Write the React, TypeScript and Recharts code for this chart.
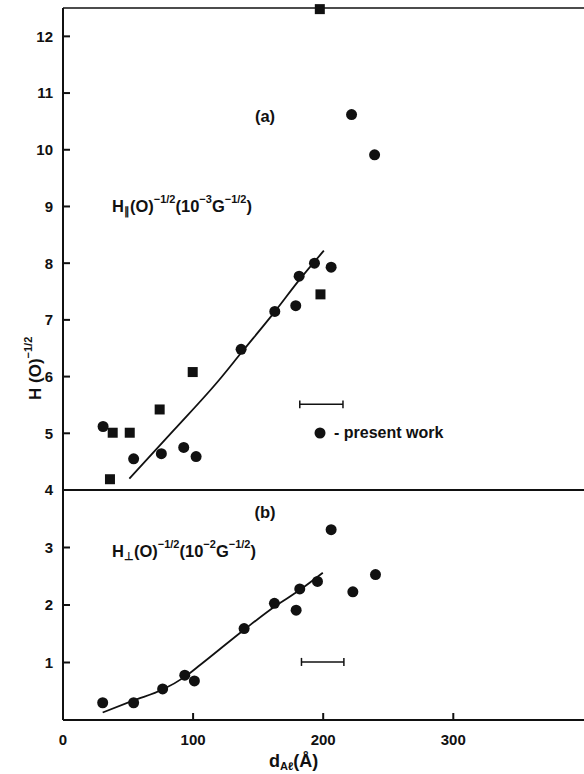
import React from "react";
import {
  ComposedChart,
  Scatter,
  Line,
  XAxis,
  YAxis,
  ReferenceLine,
} from "recharts";

// panel (a): H_par(0)^-1/2 in 10^-3 G^-1/2
const topCircleX = [30.8, 54.3, 75.6, 92.8, 102.3, 136.9, 162.8, 178.9, 181.5, 193.3, 206.1, 221.8, 239.5];
const topCircleY = [5.12, 4.55, 4.64, 4.75, 4.59, 6.48, 7.15, 7.25, 7.77, 8.0, 7.93, 10.62, 9.91];
const topSquareX = [36.1, 38.2, 51.3, 74.3, 99.7, 197.9, 197.4];
const topSquareY = [4.19, 5.01, 5.01, 5.42, 6.08, 7.45, 12.48];
const topFitX = [51, 85, 120, 137, 163, 181.5, 200.5];
const topFitY = [4.2, 5.05, 5.94, 6.42, 7.15, 7.7, 8.22];

// panel (b): H_perp(0)^-1/2 in 10^-2 G^-1/2
const botCircleX = [30.5, 54.3, 76.6, 93.6, 101, 139.2, 162.5, 179.2, 182, 195.6, 206.1, 222.8, 240.2];
const botCircleY = [0.3, 0.3, 0.54, 0.78, 0.68, 1.59, 2.03, 1.91, 2.28, 2.41, 3.31, 2.23, 2.53];
const botFitX = [30.5, 54.3, 76.6, 93.6, 105.6, 139.2, 162.5, 182, 199.7];
const botFitY = [0.13, 0.34, 0.53, 0.75, 0.96, 1.57, 1.97, 2.26, 2.56];

// thickness uncertainty bars
const topBar = { x1: 182, x2: 215.2, y: 5.51 };
const botBar = { x1: 183.3, x2: 215.9, y: 1.01 };

const xTicks = [0, 100, 200, 300];
const topYTicks = [4, 5, 6, 7, 8, 9, 10, 11, 12];
const botYTicks = [1, 2, 3];

const pts = (xs: number[], ys: number[]) => xs.map((x, i) => ({ x, y: ys[i] }));

const INK = "#111";
const FONT = "'Liberation Sans', Arial, sans-serif";
const tickFont = { fontFamily: FONT, fontWeight: 700, fontSize: 15, fill: INK };

const Dot = (p: any) => <circle cx={p.cx} cy={p.cy} r={5.5} fill={INK} />;
const Square = (p: any) => (
  <rect x={p.cx - 5} y={p.cy - 5} width={10} height={10} fill={INK} />
);
// inward tick marks, drawn as scatter glyphs sitting on the axes
const YTickMark = (p: any) => (
  <line x1={p.cx} x2={p.cx + 7} y1={p.cy} y2={p.cy} stroke={INK} strokeWidth={2} />
);
const XTickMark = (p: any) => (
  <line x1={p.cx} x2={p.cx} y1={p.cy} y2={p.cy - 7} stroke={INK} strokeWidth={2} />
);

function barLines(bar: { x1: number; x2: number; y: number }, cap: number, key: string) {
  return [
    <ReferenceLine key={key + "h"} segment={[{ x: bar.x1, y: bar.y }, { x: bar.x2, y: bar.y }]} stroke={INK} strokeWidth={1.5} />,
    <ReferenceLine key={key + "l"} segment={[{ x: bar.x1, y: bar.y - cap }, { x: bar.x1, y: bar.y + cap }]} stroke={INK} strokeWidth={1.5} />,
    <ReferenceLine key={key + "r"} segment={[{ x: bar.x2, y: bar.y - cap }, { x: bar.x2, y: bar.y + cap }]} stroke={INK} strokeWidth={1.5} />,
  ];
}

const CHART_W = 600;
const MARGIN_R = 14;
const X_DOMAIN: [number, number] = [0, 402];

export default function App() {
  const sup = { fontSize: 11 };
  return (
    <div style={{ position: "absolute", left: 0, top: 0, width: 584, height: 774, overflow: "hidden", background: "#fff" }}>
      <div style={{ position: "absolute", left: 0, top: 0 }}>
        <ComposedChart width={CHART_W} height={500} margin={{ top: 8, right: MARGIN_R, bottom: 10, left: 0 }}>
          <XAxis type="number" dataKey="x" domain={X_DOMAIN} hide />
          <YAxis
            type="number"
            dataKey="y"
            domain={[4, 12.5]}
            ticks={topYTicks}
            width={63}
            tickLine={false}
            tickMargin={4}
            axisLine={{ stroke: INK, strokeWidth: 2 }}
            tick={tickFont}
            interval={0}
          />
          <ReferenceLine y={12.5} stroke={INK} strokeWidth={1.5} />
          <ReferenceLine y={4} stroke={INK} strokeWidth={2} />
          {barLines(topBar, 0.07, "tb")}
          <Scatter data={topYTicks.map((v) => ({ x: 0, y: v }))} dataKey="y" shape={YTickMark} isAnimationActive={false} />
          <Line data={pts(topFitX, topFitY)} dataKey="y" type="monotone" stroke={INK} strokeWidth={1.8} dot={false} isAnimationActive={false} />
          <Scatter data={pts(topSquareX, topSquareY)} dataKey="y" shape={Square} isAnimationActive={false} />
          <Scatter data={pts(topCircleX, topCircleY)} dataKey="y" shape={Dot} isAnimationActive={false} />
        </ComposedChart>
      </div>
      <div style={{ position: "absolute", left: 0, top: 490 }}>
        <ComposedChart width={CHART_W} height={284} margin={{ top: 0, right: MARGIN_R, bottom: 0, left: 0 }}>
          <XAxis
            type="number"
            dataKey="x"
            domain={X_DOMAIN}
            ticks={xTicks}
            height={54}
            tickLine={false}
            tickMargin={8}
            axisLine={{ stroke: INK, strokeWidth: 2 }}
            tick={tickFont}
            interval={0}
          />
          <YAxis
            type="number"
            dataKey="y"
            domain={[0, 4]}
            ticks={botYTicks}
            width={63}
            tickLine={false}
            tickMargin={4}
            axisLine={{ stroke: INK, strokeWidth: 2 }}
            tick={tickFont}
            interval={0}
          />
          {barLines(botBar, 0.07, "bb")}
          <Scatter data={botYTicks.map((v) => ({ x: 0, y: v }))} dataKey="y" shape={YTickMark} isAnimationActive={false} />
          <Scatter data={xTicks.filter((v) => v > 0).map((v) => ({ x: v, y: 0 }))} dataKey="y" shape={XTickMark} isAnimationActive={false} />
          <Line data={pts(botFitX, botFitY)} dataKey="y" type="monotone" stroke={INK} strokeWidth={1.8} dot={false} isAnimationActive={false} />
          <Scatter data={pts(botCircleX, botCircleY)} dataKey="y" shape={Dot} isAnimationActive={false} />
        </ComposedChart>
      </div>
      <svg width={584} height={774} style={{ position: "absolute", left: 0, top: 0, pointerEvents: "none" }}>
        <g fontFamily={FONT} fontWeight={700} fill={INK} fontSize={16.5}>
          <text x={265} y={122} textAnchor="middle">(a)</text>
          <text x={265} y={518} textAnchor="middle">(b)</text>
          <text x={112} y={212}>
            H<tspan fontSize={11} dy={3}>∥</tspan>
            <tspan dy={-3}>(O)</tspan>
            <tspan {...sup} dy={-9}>−1/2</tspan>
            <tspan dy={9}>(10</tspan>
            <tspan {...sup} dy={-9}>−3</tspan>
            <tspan dy={9}>G</tspan>
            <tspan {...sup} dy={-9}>−1/2</tspan>
            <tspan dy={9}>)</tspan>
          </text>
          <text x={112} y={557}>
            H<tspan fontSize={11} dy={3}>⊥</tspan>
            <tspan dy={-3}>(O)</tspan>
            <tspan {...sup} dy={-9}>−1/2</tspan>
            <tspan dy={9}>(10</tspan>
            <tspan {...sup} dy={-9}>−2</tspan>
            <tspan dy={9}>G</tspan>
            <tspan {...sup} dy={-9}>−1/2</tspan>
            <tspan dy={9}>)</tspan>
          </text>
          <circle cx={320} cy={433} r={5.5} fill={INK} />
          <text x={334} y={438} fontSize={16}>- present work</text>
          <text transform="translate(41,400) rotate(-90)" fontSize={17}>
            H (O)<tspan fontSize={11} dy={-9}>−1/2</tspan>
          </text>
          <text x={269} y={767} fontSize={18}>
            d<tspan fontSize={11} dy={3}>Aℓ</tspan>
            <tspan dy={-3}>(Å)</tspan>
          </text>
        </g>
      </svg>
    </div>
  );
}
